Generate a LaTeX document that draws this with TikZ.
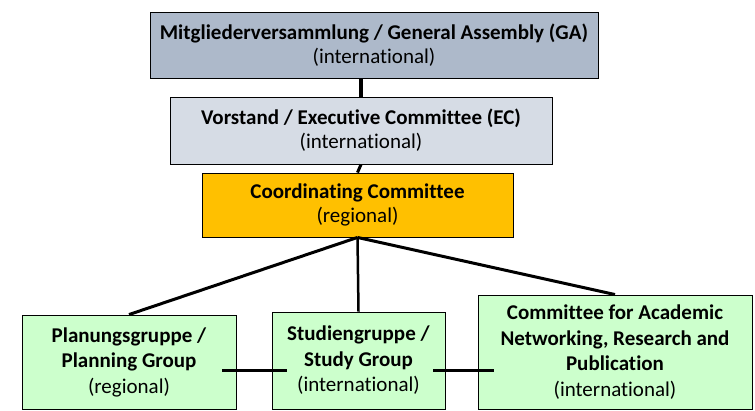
\documentclass[tikz,border=0pt]{standalone}
\usepackage{fontspec}
\setmainfont{Carlito}[Ligatures=NoCommon]
\usepackage{tikz}
\usetikzlibrary{arrows,positioning}

\definecolor{gaBlue}{HTML}{ADB9CA}
\definecolor{ecBlue}{HTML}{D6DCE5}
\definecolor{ccOrange}{HTML}{FFC000}
\definecolor{grpGreen}{HTML}{CCFFCC}

\begin{document}
\begin{tikzpicture}[x=1pt,y=-1pt,semithick]
  \tikzstyle{every node}=[draw=black,line width=0.9pt,align=center,inner sep=0pt,
                          font=\fontsize{21}{24}\selectfont]
  \tikzstyle{group}=[fill=grpGreen,font=\fontsize{21}{25.5}\selectfont]
  \tikzstyle{link}=[draw=black,line width=3pt]

  \useasboundingbox (0,0) rectangle (755,411);

  \node[fill=gaBlue,minimum width=448pt,minimum height=66pt] (GA) at (374,45)
    {\textbf{Mitgliederversammlung / General Assembly (GA)}\\(international)};
  \node[fill=ecBlue,minimum width=382pt,minimum height=67pt] (EC) at (361,130.5)
    {\textbf{Vorstand / Executive Committee (EC)}\\(international)};
  \node[fill=ccOrange,minimum width=311pt,minimum height=64pt] (CC) at (357.5,205)
    {\textbf{Coordinating Committee}\\(regional)};

  \node[group,minimum width=214pt,minimum height=94pt] (Plan) at (129,362)
    {\textbf{Planungsgruppe /}\\\textbf{Planning Group}\\(regional)};
  \node[group,minimum width=173pt,minimum height=97pt] (Study) at (358.5,360.5)
    {\textbf{Studiengruppe /}\\\textbf{Study Group}\\(international)};
  \node[group,minimum width=274pt,minimum height=114pt] (Acad) at (615,352)
    {\textbf{Committee for Academic}\\\textbf{Networking, Research and}\\\textbf{Publication}\\(international)};

  \path (EC.north) edge [link,line width=3.5pt] (EC.north |- GA.south)
        (EC.south) edge [link] (CC.north)
        (CC.south) edge [link] (Plan.north)
                   edge [link,line width=2.5pt] (Study.north)
                   edge [link] (Acad.north);

  \path ([yshift=-9pt]Plan.east) edge [link,shorten <=-14pt,shorten >=-15pt]
          ([yshift=-9pt]Plan.east -| Study.west)
        ([yshift=-10.5pt]Study.east) edge [link,shorten <=-12pt,shorten >=-16pt]
          ([yshift=-10.5pt]Study.east -| Acad.west);
\end{tikzpicture}
\end{document}
